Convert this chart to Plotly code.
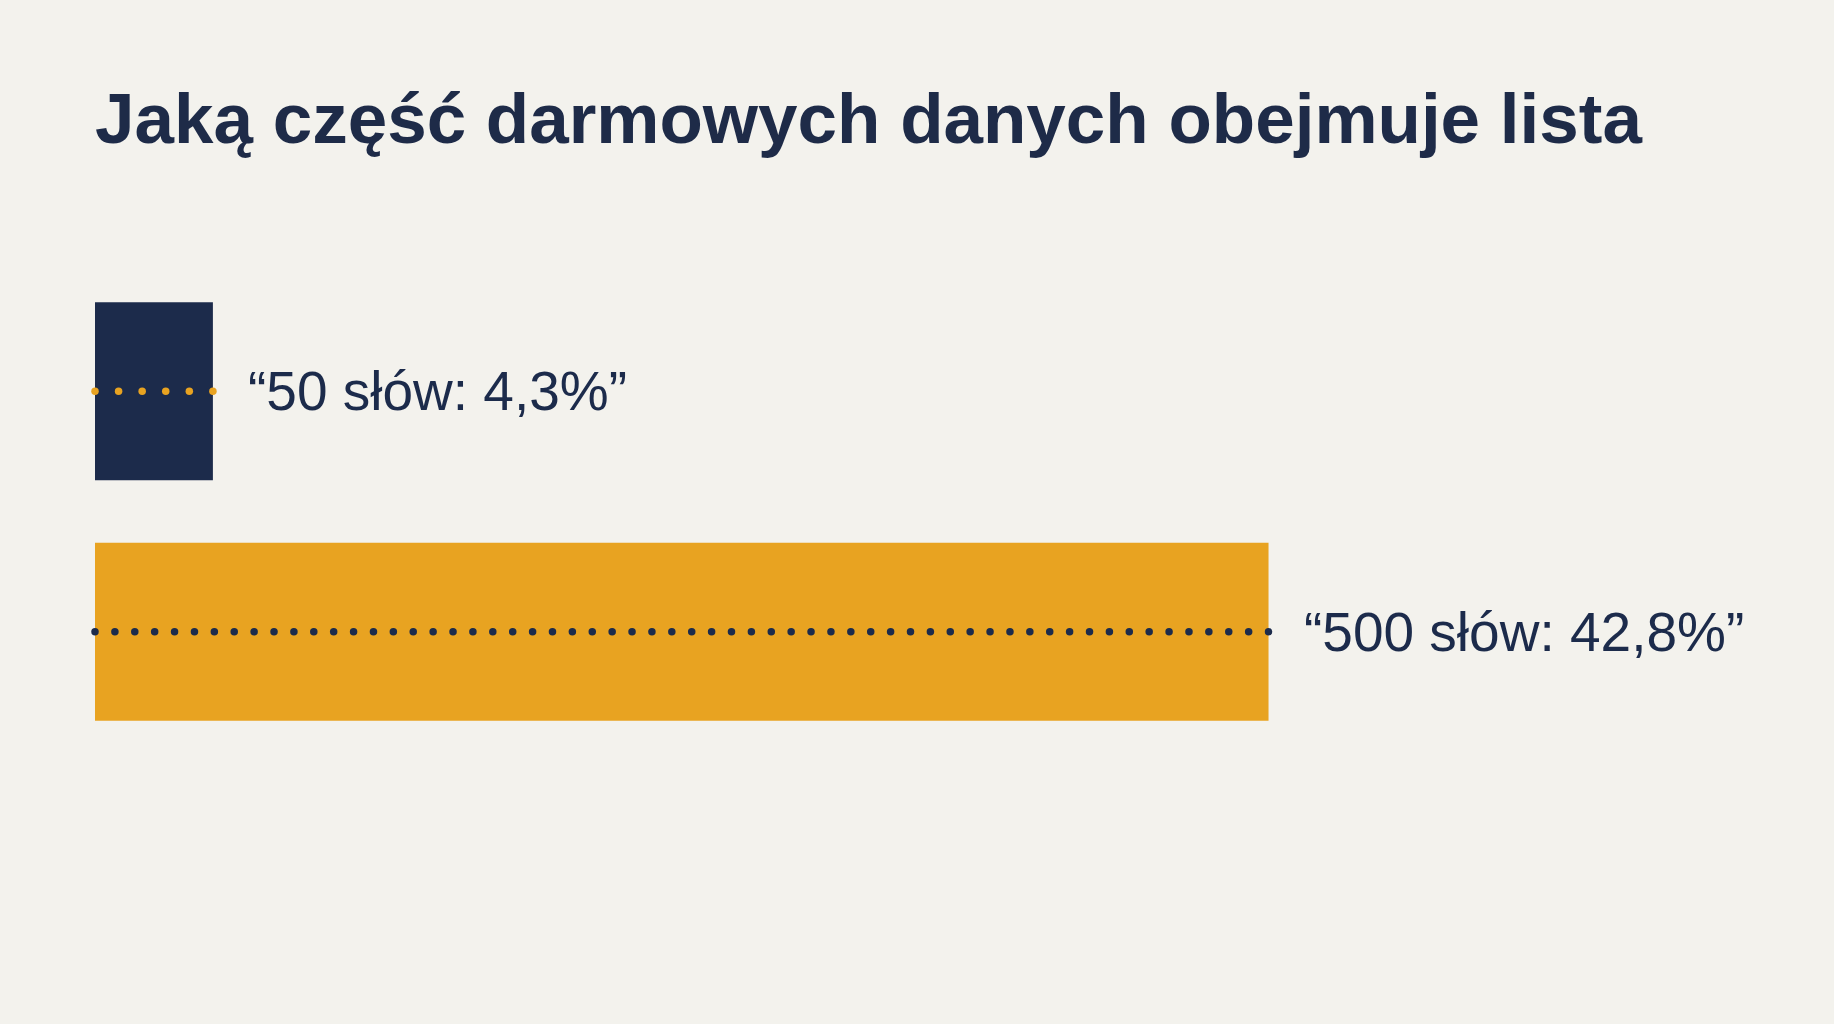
import numpy as np
import plotly.graph_objects as go

# data
categories = ["50 słów", "500 słów"]
shares = [4.3, 42.8]
labels = ["“50 słów: 4,3%”", "“500 słów: 42,8%”"]
title = "Jaką część darmowych danych obejmuje lista"

bg = "#F3F2ED"
navy = "#1C2B4B"
orange = "#E8A321"
bar_colors = [navy, orange]
dot_colors = [orange, navy]
dot_counts = [6, 60]

fig = go.Figure()

fig.add_trace(go.Bar(
    y=categories, x=shares, orientation="h",
    marker=dict(color=bar_colors, line=dict(width=0)),
    width=0.74, hoverinfo="skip", showlegend=False,
))

# dotted line through the middle of each bar
for cat, val, col, n in zip(categories, shares, dot_colors, dot_counts):
    xs = np.linspace(0, val, n)
    fig.add_trace(go.Scatter(
        x=xs, y=[cat] * n, mode="markers",
        marker=dict(color=col, size=7.5, line=dict(width=0)),
        hoverinfo="skip", showlegend=False, cliponaxis=False,
    ))

for cat, val, lab in zip(categories, shares, labels):
    fig.add_annotation(
        x=val, y=cat, text=lab, showarrow=False,
        xanchor="left", yanchor="middle", xshift=33,
        font=dict(family="Liberation Sans, Arial, sans-serif", size=55, color=navy),
    )

fig.update_layout(
    width=1834, height=1024,
    paper_bgcolor=bg, plot_bgcolor=bg,
    margin=dict(l=95, r=50, t=271, b=272),
    title=dict(
        text="<b>" + title + "</b>",
        x=95 / 1834, xref="container", xanchor="left",
        y=1 - 118 / 1024, yref="container", yanchor="middle",
        font=dict(family="Liberation Sans, Arial, sans-serif", size=71, color="#1E2B48"),
    ),
    xaxis=dict(range=[0, 61.6], visible=False, fixedrange=True),
    yaxis=dict(categoryorder="array", categoryarray=categories, autorange="reversed",
               visible=False, fixedrange=True),
    bargap=0.26,
)

fig.write_html(
    "out.html",
    config={"displayModeBar": False},
    post_script="document.body.style.margin='0';document.body.style.background='#F3F2ED';document.body.style.overflow='hidden';",
)
